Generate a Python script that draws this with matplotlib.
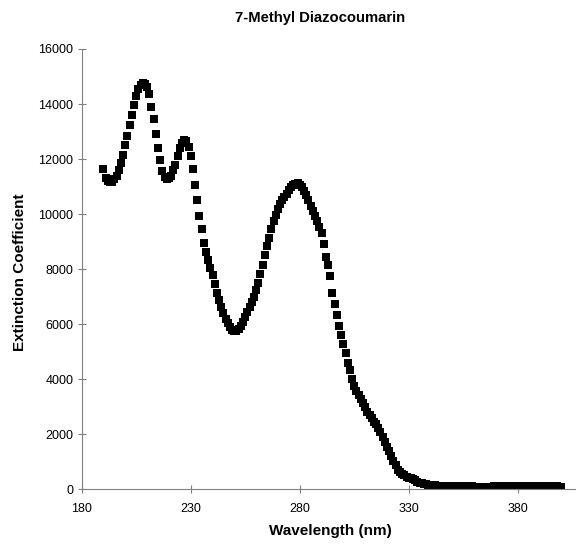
import matplotlib
matplotlib.use("Agg")
import matplotlib.pyplot as plt

# Wavelength grid (nm) and measured extinction coefficients
wavelength = list(range(190, 401))

eps_uv = [
    11650, 11330, 11200, 11150, 11180, 11280, 11400, 11600, 11850, 12150,   # 190-199
    12500, 12850, 13250, 13600, 13950, 14300, 14550, 14700, 14750, 14740,   # 200-209
    14620, 14350, 13900, 13450, 12900, 12400, 11950, 11550, 11350, 11270,   # 210-219
    11300, 11400, 11600, 11800, 12100, 12400, 12600, 12680, 12660, 12450,   # 220-229
    12100, 11650, 11050, 10500, 9950, 9450, 8950, 8620, 8320, 8050,         # 230-239
    7780, 7450, 7150, 6900, 6620, 6400, 6200, 6030, 5900, 5800,             # 240-249
    5740, 5750, 5820, 5920, 6080, 6250, 6430, 6620, 6820, 7000,             # 250-259
    7250, 7500, 7830, 8150, 8500, 8850, 9130, 9450, 9750, 9980,             # 260-269
    10180, 10360, 10500, 10630, 10750, 10870, 10970, 11050, 11100, 11120,   # 270-279
    11070, 10980, 10850, 10680, 10500, 10300, 10100, 9920, 9750, 9550,      # 280-289
    9300, 8900, 8450, 8150, 7750, 7150, 6750, 6350, 5950, 5600,             # 290-299
    5280, 4950, 4580, 4350, 4000, 3750, 3580, 3430, 3280, 3130,             # 300-309
    2990, 2830, 2700, 2580, 2460, 2370, 2220, 2080, 1900, 1740,             # 310-319
    1560, 1390, 1200, 1020, 880, 720, 620, 560, 510, 470,                   # 320-329
    430, 400, 370, 330, 290, 250, 230, 210, 190, 175,                       # 330-339
    160, 150, 145, 140, 140, 135, 130, 130, 125, 125,                       # 340-349
    120, 120, 115, 120, 125, 130, 135, 140, 135, 120,                       # 350-359
    105, 95, 85, 80, 80, 85, 90, 100, 105, 110,                             # 360-369
    115, 120, 120, 125, 125, 120, 120, 125, 130, 130,                       # 370-379
    125, 125, 130, 130, 125, 120, 120, 125, 125, 120,                       # 380-389
    120, 115, 115, 120, 120, 115, 115, 110, 110, 105,                       # 390-399
    100,                                                                    # 400
]

x_ticks = [180, 230, 280, 330, 380]
y_ticks = list(range(0, 16001, 2000))

plt.rcParams['font.family'] = ['Liberation Sans', 'DejaVu Sans']

fig = plt.figure(figsize=(5.76, 5.44), dpi=100)
ax = fig.add_axes([0.1418, 0.1002, 0.8582, 0.8098])

ax.plot(wavelength, eps_uv, linestyle='none', marker='s', markersize=5.4,
        color='black', markeredgewidth=0)

ax.set_xlim(180, 406.7)
ax.set_ylim(0, 16000)
ax.set_xticks(x_ticks)
ax.set_yticks(y_ticks)

for side in ('top', 'right'):
    ax.spines[side].set_visible(False)
for side in ('left', 'bottom'):
    ax.spines[side].set_color('#808080')
    ax.spines[side].set_linewidth(0.8)

ax.tick_params(direction='inout', length=6, width=0.8, color='#808080',
               labelsize=9, labelcolor='black', pad=3)
ax.tick_params(axis='x', pad=7)

fig.text(0.556, 0.966, '7-Methyl Diazocoumarin', ha='center', va='center',
         fontsize=10.7, fontweight='bold')
fig.text(0.573, 0.024, 'Wavelength (nm)', ha='center', va='center',
         fontsize=11, fontweight='bold')
fig.text(0.035, 0.5, 'Extinction Coefficient', ha='center', va='center',
         rotation=90, fontsize=11, fontweight='bold')

fig.savefig('out.png', dpi=100)
